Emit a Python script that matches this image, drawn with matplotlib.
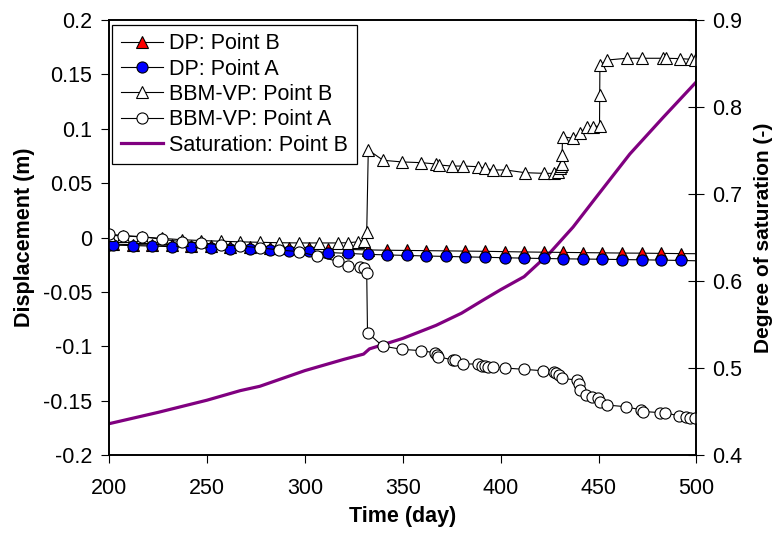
import matplotlib
matplotlib.use("Agg")
import matplotlib.pyplot as plt

plt.rcParams['font.family'] = ['Liberation Sans', 'DejaVu Sans']
plt.rcParams['axes.unicode_minus'] = False

# DP model, markers every ~10 days
dp_day = [200, 202, 212, 222, 232, 242, 252, 262, 272, 282, 292, 302, 312, 322, 332, 342,
          352, 362, 372, 382, 392, 402, 412, 422, 432, 442, 452, 462, 472, 482, 492, 500]
dp_b = [-0.0060, -0.0062, -0.0065, -0.0068, -0.0072, -0.0076, -0.0080, -0.0084, -0.0088,
        -0.0092, -0.0096, -0.0100, -0.0105, -0.0110, -0.0114, -0.0117, -0.0119, -0.0121,
        -0.0123, -0.0125, -0.0127, -0.0130, -0.0133, -0.0135, -0.0137, -0.0139, -0.0141,
        -0.0143, -0.0144, -0.0146, -0.0148, -0.0149]
dp_a = [-0.0068, -0.0070, -0.0074, -0.0079, -0.0084, -0.0090, -0.0097, -0.0103, -0.0108,
        -0.0114, -0.0120, -0.0128, -0.0138, -0.0146, -0.0155, -0.0160, -0.0165, -0.0170,
        -0.0174, -0.0178, -0.0182, -0.0186, -0.0190, -0.0193, -0.0196, -0.0198, -0.0200,
        -0.0203, -0.0205, -0.0208, -0.0211, -0.0214]

# BBM-VP, point B
bbm_b_day = [200, 207, 217, 227, 237, 247, 257, 267, 277, 287, 297, 307, 317, 322, 327, 330,
             331.6, 332.4, 340, 349.5, 359.5, 367, 368.5, 375, 381, 388.5, 392, 396, 402.5,
             412.5, 422, 427.5, 429.5, 430.5, 431, 431.2, 431.4, 431.6, 437, 440.4, 444, 447,
             450.5, 450.6, 450.7, 454.5, 464.5, 472, 483, 484.5, 491.5, 497, 499.5]
bbm_b = [0.002, 0.0015, 0.0005, -0.0008, -0.002, -0.0028, -0.0034, -0.0040, -0.0044,
         -0.0048, -0.0050, -0.0050, -0.0050, -0.0048, -0.004, -0.003,
         0.005, 0.0805, 0.071, 0.0695, 0.0688, 0.0676, 0.0667, 0.0657, 0.0657, 0.0651,
         0.0636, 0.0621, 0.0621, 0.0596, 0.059, 0.059, 0.0605, 0.0636, 0.066, 0.068,
         0.0759, 0.0927, 0.0912, 0.0964, 0.1013, 0.1019, 0.1025, 0.131, 0.1586, 0.1632,
         0.1648, 0.1648, 0.1648, 0.1648, 0.1645, 0.1639, 0.1632]

# BBM-VP, point A
bbm_a_day = [200, 207, 217, 227, 237, 247, 257, 267, 277, 287, 297, 306, 317, 322, 328, 330,
             331.6, 332, 339.7, 349.4, 359.1, 366.5, 367.3, 368.2, 375.5, 376.5, 381, 388.6,
             390.7, 392, 393.7, 396.2, 402.2, 411.9, 421.4, 427.2, 428.5, 429.9, 431.1,
             438.8, 440.1, 440.4, 443.5, 446.9, 449.8, 450.6, 454.1, 464, 471.9, 472.8,
             481.6, 483.8, 491.2, 494.9, 496.6, 499.2]
bbm_a = [0.0032, 0.0017, 0.0008, -0.0017, -0.0038, -0.0048, -0.0069, -0.0078, -0.0094,
         -0.0115, -0.013, -0.017, -0.022, -0.026, -0.027, -0.028, -0.033, -0.0875, -0.0998,
         -0.1028, -0.104, -0.106, -0.108, -0.1096, -0.1126, -0.1126, -0.1163, -0.1163,
         -0.118, -0.118, -0.119, -0.119, -0.120, -0.1212, -0.1225, -0.1234, -0.125,
         -0.1264, -0.1295, -0.131, -0.1347, -0.140, -0.1448, -0.1464, -0.148, -0.151,
         -0.154, -0.1556, -0.1586, -0.160, -0.161, -0.161, -0.1641, -0.1653, -0.1663,
         -0.1663]

# degree of saturation, point B
sat_day = [200, 225, 250, 267, 277, 300, 320, 330, 333, 350, 367, 380, 391, 400, 412, 425,
           437, 448, 466, 483, 500]
sat_b = [0.436, 0.449, 0.463, 0.474, 0.479, 0.497, 0.510, 0.516, 0.522, 0.534, 0.549, 0.563,
         0.578, 0.590, 0.605, 0.632, 0.662, 0.694, 0.746, 0.788, 0.829]

x_ticks = [200, 250, 300, 350, 400, 450, 500]
y_ticks = [-0.2, -0.15, -0.1, -0.05, 0, 0.05, 0.1, 0.15, 0.2]
y2_ticks = [0.4, 0.5, 0.6, 0.7, 0.8, 0.9]

fig = plt.figure(figsize=(7.79, 5.33), dpi=100)
ax = fig.add_axes([0.140, 0.1463, 0.754, 0.8162])
ax2 = ax.twinx()
# displacement curves drawn above the saturation line
ax.set_zorder(ax2.get_zorder() + 1)
ax.patch.set_visible(False)

lw = 0.8
mk = list(range(len(dp_day) - 1))
h1, = ax.plot(dp_day, dp_b, '-', color='black', lw=lw, marker='^', ms=8.5,
              mfc='#ff0000', mec='black', mew=0.8, markevery=mk, label='DP: Point B')
h2, = ax.plot(dp_day, dp_a, '-', color='black', lw=lw, marker='o', ms=8,
              mfc='#0000ff', mec='black', mew=0.8, markevery=mk, label='DP: Point A')
h3, = ax.plot(bbm_b_day, bbm_b, '-', color='black', lw=lw, marker='^', ms=9,
              mfc='white', mec='black', mew=0.8, label='BBM-VP: Point B')
h4, = ax.plot(bbm_a_day, bbm_a, '-', color='black', lw=lw, marker='o', ms=8,
              mfc='white', mec='black', mew=0.8, label='BBM-VP: Point A')
h5, = ax2.plot(sat_day, sat_b, '-', color='#800080', lw=2.3, label='Saturation: Point B')

ax.set_xlim(200, 500)
ax.set_ylim(-0.2, 0.2)
ax2.set_ylim(0.4, 0.9)
ax.set_xticks(x_ticks)
ax.set_xticklabels([str(v) for v in x_ticks])
ax.set_yticks(y_ticks)
ax.set_yticklabels(['{:g}'.format(v) for v in y_ticks])
ax2.set_yticks(y2_ticks)
ax2.set_yticklabels(['{:g}'.format(v) for v in y2_ticks])

ax.tick_params(axis='x', direction='out', length=5.5, width=0.8, pad=11, labelsize=15.5)
ax.tick_params(axis='y', direction='out', length=6, width=0.8, pad=6, labelsize=15.5)
ax2.tick_params(axis='y', direction='inout', length=11, width=0.8, pad=6, labelsize=15.5)
for a in (ax, ax2):
    for s in a.spines.values():
        s.set_linewidth(1.2)
        s.set_color('black')

ax.set_xlabel('Time (day)', fontsize=15.5, fontweight='bold', labelpad=5)
ax.set_ylabel('Displacement (m)', fontsize=15.5, fontweight='bold', labelpad=6)
ax2.set_ylabel('Degree of saturation (-)', fontsize=15, fontweight='bold', labelpad=8)

leg = ax.legend(handles=[h1, h2, h3, h4, h5], loc='upper left',
                bbox_to_anchor=(0.005, 0.989), borderaxespad=0, fontsize=15.5,
                numpoints=1, fancybox=False, framealpha=1, edgecolor='black',
                handlelength=1.95, handletextpad=0.3, labelspacing=0.2,
                borderpad=0.4)
leg.get_frame().set_linewidth(0.9)

fig.savefig('out.png', dpi=100)
